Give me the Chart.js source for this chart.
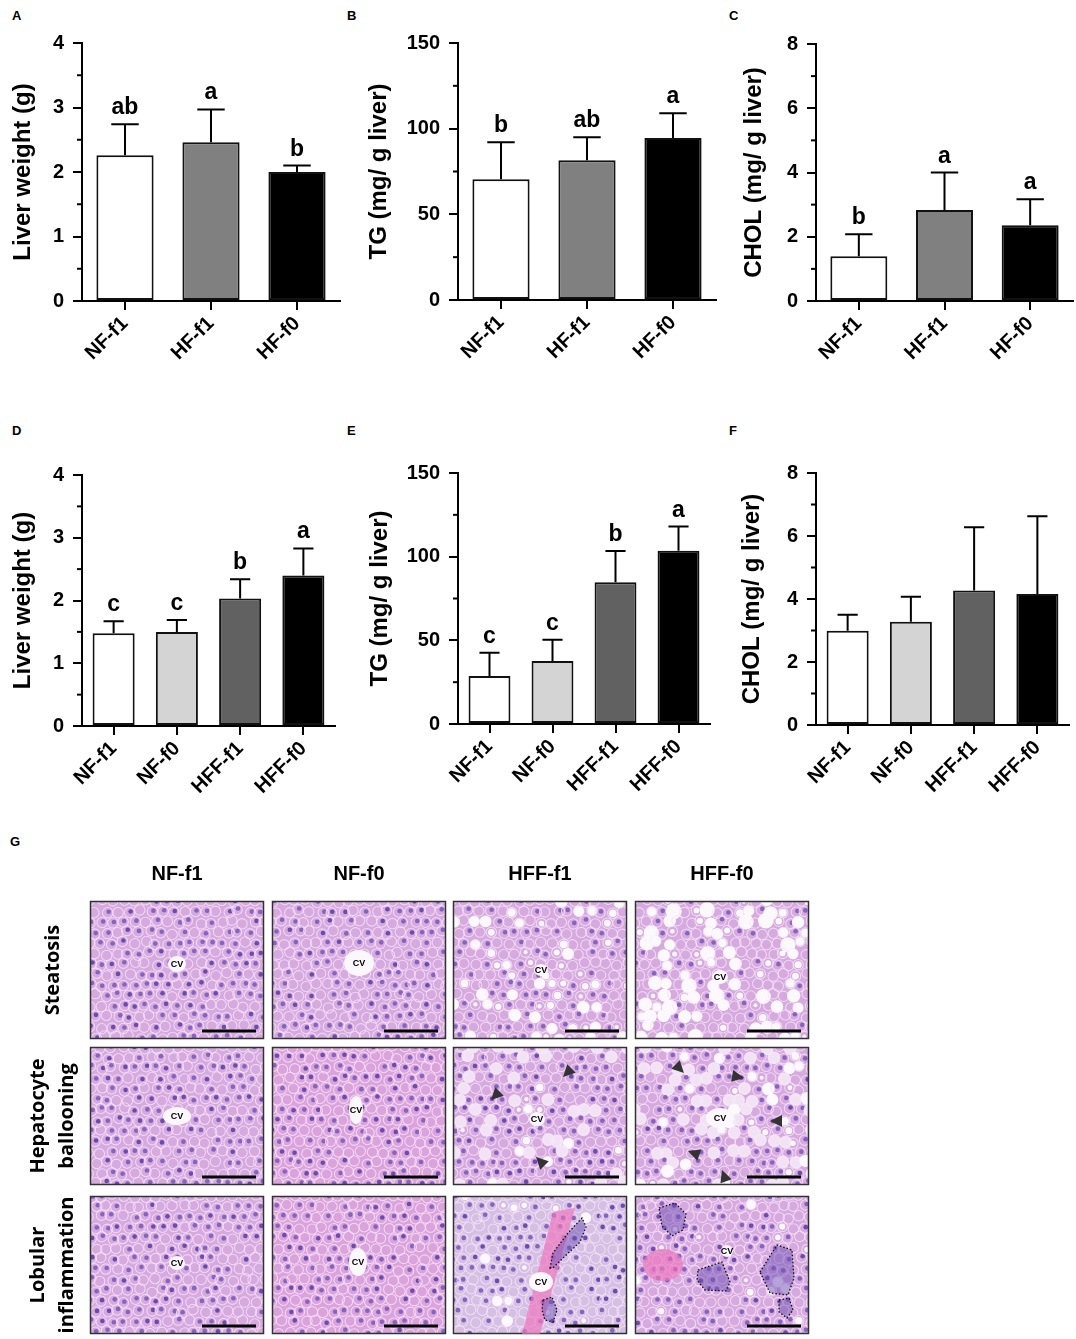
<!DOCTYPE html>
<html>
<head>
<meta charset="utf-8">
<script src="https://cdn.jsdelivr.net/npm/chart.js@4.4.1/dist/chart.umd.min.js"></script>
<style>
html, body { margin: 0; padding: 0; background: #fff; }
#page { position: relative; width: 1076px; height: 1339px; overflow: hidden; font-family: "Liberation Sans", Arial, sans-serif; color: #000; }
.pnl { position: absolute; }
.tag { position: absolute; font-weight: bold; font-size: 13px; line-height: 13px; }
.colh { position: absolute; top: 861px; width: 174px; text-align: center; font-weight: bold; font-size: 20px; line-height: 24px; }
.rowh { position: absolute; font-family: "Open Sans", sans-serif; font-weight: bold; font-size: 20px; line-height: 29px; text-align: center; white-space: nowrap; transform: translate(-50%, -50%) rotate(-90deg); }
.cv { position: absolute; font-weight: bold; font-size: 9px; line-height: 10px; transform: translate(-50%, -50%); }
</style>
</head>
<body>
<div id="page">
  <div class="tag" style="left:12px;top:9px">A</div>
  <div class="tag" style="left:347px;top:9px">B</div>
  <div class="tag" style="left:729px;top:9px">C</div>
  <div class="tag" style="left:12px;top:424px">D</div>
  <div class="tag" style="left:347px;top:424px">E</div>
  <div class="tag" style="left:729px;top:424px">F</div>
  <div class="tag" style="left:10px;top:835px">G</div>

  <canvas id="cA" class="pnl"></canvas>
  <canvas id="cB" class="pnl"></canvas>
  <canvas id="cC" class="pnl"></canvas>
  <canvas id="cD" class="pnl"></canvas>
  <canvas id="cE" class="pnl"></canvas>
  <canvas id="cF" class="pnl"></canvas>

  <canvas id="histo" class="pnl" width="830" height="509" style="left:0;top:830px"></canvas>
  <div id="histoText"></div>
</div>

<script>
// ---- data ------------------------------------------------------
var groups3 = ['NF-f1', 'HF-f1', 'HF-f0'];
var groups4 = ['NF-f1', 'NF-f0', 'HFF-f1', 'HFF-f0'];

var liverA     = [2.26, 2.46, 2.00];
var liverA_sd  = [0.48, 0.51, 0.10];
var liverA_sig = ['ab', 'a', 'b'];

var tgB     = [70.5, 81.5, 94.5];
var tgB_sd  = [21.5, 13.5, 14.5];
var tgB_sig = ['b', 'ab', 'a'];

var cholC     = [1.39, 2.83, 2.36];
var cholC_sd  = [0.69, 1.17, 0.81];
var cholC_sig = ['b', 'a', 'a'];

var liverD     = [1.48, 1.50, 2.03, 2.40];
var liverD_sd  = [0.19, 0.19, 0.31, 0.43];
var liverD_sig = ['c', 'c', 'b', 'a'];

var tgE     = [28.7, 37.6, 84.7, 103.6];
var tgE_sd  = [13.9, 12.8, 18.7, 14.4];
var tgE_sig = ['c', 'c', 'b', 'a'];

var cholF     = [2.99, 3.28, 4.27, 4.16];
var cholF_sd  = [0.51, 0.79, 2.01, 2.47];

var liverTicks = [0, 1, 2, 3, 4];
var tgTicks    = [0, 50, 100, 150];
var cholTicks  = [0, 2, 4, 6, 8];

var fill3 = ['#ffffff', '#808080', '#000000'];
var fill4 = ['#ffffff', '#d4d4d4', '#616161', '#000000'];

var histoCols = ['NF-f1', 'NF-f0', 'HFF-f1', 'HFF-f0'];
var histoRows = [['Steatosis'], ['Hepatocyte', 'ballooning'], ['Lobular', 'inflammation']];

var FONT = '"Liberation Sans", Arial, sans-serif';

// ---- plugins ---------------------------------------------------
// upper SD whisker + significance letter above each bar
var errPlugin = {
    id: 'errbars',
    afterDatasetsDraw: function(chart) {
        var ds = chart.data.datasets[0], meta = chart.getDatasetMeta(0);
        var y = chart.scales.y, ctx = chart.ctx;
        ctx.save();
        ctx.strokeStyle = '#000'; ctx.fillStyle = '#000'; ctx.lineWidth = 2;
        ctx.font = 'bold 23px ' + FONT; ctx.textAlign = 'center'; ctx.textBaseline = 'alphabetic';
        meta.data.forEach(function(bar, i) {
            var top = y.getPixelForValue(ds.data[i] + ds.sd[i]);
            var half = bar.width * 0.24;
            ctx.beginPath();
            ctx.moveTo(bar.x, bar.y); ctx.lineTo(bar.x, top);
            ctx.moveTo(bar.x - half, top); ctx.lineTo(bar.x + half, top);
            ctx.stroke();
            if (ds.sig && ds.sig[i]) ctx.fillText(ds.sig[i], bar.x, top - 10);
        });
        ctx.restore();
    }
};

// short minor ticks half way between the labelled ones
var minorPlugin = {
    id: 'minorTicks',
    afterDraw: function(chart) {
        var y = chart.scales.y, ctx = chart.ctx, x0 = chart.chartArea.left, t = y.ticks;
        ctx.save(); ctx.strokeStyle = '#000'; ctx.lineWidth = 2;
        for (var k = 0; k < t.length - 1; k++) {
            var p = y.getPixelForValue((t[k].value + t[k + 1].value) / 2);
            ctx.beginPath(); ctx.moveTo(x0 - 5, p); ctx.lineTo(x0, p); ctx.stroke();
        }
        ctx.restore();
    }
};

// box: canvas x/y/w/h, axis = page x of y-axis, top/bottom/right = page chart area, tpad = title padding
function barPanel(id, box, labels, means, sds, sig, fills, ticks, title) {
    var cv = document.getElementById(id);
    cv.width = box.w; cv.height = box.h;
    cv.style.left = box.x + 'px'; cv.style.top = box.y + 'px';
    var step = ticks[1] - ticks[0];
    return new Chart(cv, {
        type: 'bar',
        data: {
            labels: labels,
            datasets: [{
                data: means, sd: sds, sig: sig,
                backgroundColor: fills, borderColor: '#111', borderWidth: 2, borderSkipped: false,
                categoryPercentage: 1, barPercentage: 0.665
            }]
        },
        options: {
            responsive: false,
            animation: false,
            layout: { padding: { left: 0, top: box.top - box.y, right: box.x + box.w - box.right, bottom: 0 } },
            plugins: { legend: { display: false }, tooltip: { enabled: false } },
            scales: {
                x: {
                    offset: true,
                    grid: { offset: false, drawOnChartArea: false, color: '#000', lineWidth: 2, tickLength: 9 },
                    border: { color: '#000', width: 2 },
                    ticks: { color: '#000', font: { family: FONT, size: 20, weight: 'bold' },
                             minRotation: 45, maxRotation: 45, padding: 2, autoSkip: false },
                    afterFit: function(s) { s.height = box.y + box.h - box.bottom; }
                },
                y: {
                    min: 0, max: ticks[ticks.length - 1],
                    ticks: { stepSize: step, color: '#000', padding: 9,
                             font: { family: FONT, size: 20, weight: 'bold' } },
                    grid: { drawOnChartArea: false, color: '#000', lineWidth: 2, tickLength: 9 },
                    border: { color: '#000', width: 2 },
                    title: { display: true, text: title, color: '#000',
                             font: { family: FONT, size: 24, weight: 'bold' },
                             padding: { top: box.tpad, bottom: 0 } },
                    afterFit: function(s) { s.width = box.axis - box.x; }
                }
            }
        },
        plugins: [errPlugin, minorPlugin]
    });
}

barPanel('cA', { x: 0,   y: 0,   w: 350, h: 400, axis: 82,  top: 43,  bottom: 301, right: 340,  tpad: 9 },
    groups3, liverA, liverA_sd, liverA_sig, fill3, liverTicks, 'Liver weight (g)');
barPanel('cB', { x: 350, y: 0,   w: 370, h: 400, axis: 458, top: 43,  bottom: 300, right: 716,  tpad: 15 },
    groups3, tgB, tgB_sd, tgB_sig, fill3, tgTicks, 'TG (mg/ g liver)');
barPanel('cC', { x: 720, y: 0,   w: 356, h: 400, axis: 816, top: 44,  bottom: 301, right: 1073, tpad: 20 },
    groups3, cholC, cholC_sd, cholC_sig, fill3, cholTicks, 'CHOL (mg/ g liver)');
barPanel('cD', { x: 0,   y: 410, w: 350, h: 400, axis: 82,  top: 475, bottom: 726, right: 335,  tpad: 9 },
    groups4, liverD, liverD_sd, liverD_sig, fill4, liverTicks, 'Liver weight (g)');
barPanel('cE', { x: 350, y: 410, w: 366, h: 400, axis: 458, top: 473, bottom: 724, right: 710,  tpad: 16 },
    groups4, tgE, tgE_sd, tgE_sig, fill4, tgTicks, 'TG (mg/ g liver)');
barPanel('cF', { x: 716, y: 410, w: 360, h: 400, axis: 816, top: 473, bottom: 725, right: 1069, tpad: 22 },
    groups4, cholF, cholF_sd, null, fill4, cholTicks, 'CHOL (mg/ g liver)');

// ---- panel G: stained-section placeholders ---------------------
(function() {
    var OX = 0, OY = 830;
    var colX = [90, 272, 453, 635], rowY = [901, 1047, 1196], BW = 174, BH = 138;
    var ctx = document.getElementById('histo').getContext('2d');
    var txt = document.getElementById('histoText');
    var html = '';

    function hash(a, b) { var s = Math.sin(a * 127.1 + b * 311.7) * 43758.5453; return s - Math.floor(s); }

    // per image: fat vacuole share / max radius, ballooned share, pale or pink tone
    var kinds = [
        [{}, {}, { fat: 0.3, fr: 4.5 }, { fat: 0.45, fr: 6 }],
        [{}, { pink: 1 }, { balloon: 0.12, fat: 0.06, fr: 4 }, { balloon: 0.22, fat: 0.16, fr: 5 }],
        [{}, { pink: 1 }, { pale: 1, fat: 0.05, fr: 4 }, { fat: 0.08, fr: 3.5 }]
    ];

    function tissue(r, c) {
        var x = colX[c] - OX, y = rowY[r] - OY, k = kinds[r][c];
        ctx.save();
        ctx.beginPath(); ctx.rect(x, y, BW, BH); ctx.clip();
        ctx.fillStyle = k.pale ? '#d5bfe3' : (k.pink ? '#dba3dc' : '#d6a9df');
        ctx.fillRect(x, y, BW, BH);
        var seed = r * 7 + c * 13 + 1;
        for (var j = 0; j < 14; j++) {
            for (var i = 0; i < 17; i++) {
                var cx = x + i * 11 + (j % 2) * 5.5 + (hash(i + seed, j) - 0.5) * 4;
                var cy = y + j * 10.5 + (hash(j + seed, i) - 0.5) * 4;
                var hv = hash(i * 3 + seed, j * 5 + seed);
                ctx.strokeStyle = 'rgba(246,228,247,0.8)'; ctx.lineWidth = 1.1;
                ctx.beginPath(); ctx.arc(cx, cy, 5.2, 0, Math.PI * 2); ctx.stroke();
                if (k.fat && hv < k.fat) {
                    var rr = 2 + hash(i, j + seed) * k.fr;
                    ctx.fillStyle = '#fcf9fc';
                    ctx.beginPath(); ctx.arc(cx, cy, rr, 0, Math.PI * 2); ctx.fill();
                } else if (k.balloon && hv > 1 - k.balloon) {
                    ctx.fillStyle = 'rgba(244,232,246,0.9)';
                    ctx.beginPath(); ctx.arc(cx, cy, 6.5, 0, Math.PI * 2); ctx.fill();
                } else if (hv < 0.62) {
                    ctx.fillStyle = hv < 0.2 ? '#6a4bb0' : '#8563c0';
                    ctx.beginPath(); ctx.arc(cx + 1, cy - 1, 2.3, 0, Math.PI * 2); ctx.fill();
                }
            }
        }
        ctx.restore();
        // frame + scale bar
        ctx.strokeStyle = '#333'; ctx.lineWidth = 1.5;
        ctx.strokeRect(x + 0.5, y + 0.5, BW - 1, BH - 1);
        ctx.strokeStyle = '#000'; ctx.lineWidth = 3;
        ctx.beginPath(); ctx.moveTo(x + BW - 62, y + BH - 8); ctx.lineTo(x + BW - 8, y + BH - 8); ctx.stroke();
    }

    for (var r = 0; r < 3; r++) for (var c = 0; c < 4; c++) tissue(r, c);

    // central veins
    var cvs = [
        [177, 964, 9, 8], [359, 963, 15, 13], [541, 970, 7, 6], [720, 977, 8, 7],
        [177, 1116, 14, 9], [356, 1110, 7, 14], [537, 1119, 8, 7], [720, 1118, 14, 10],
        [177, 1263, 8, 7], [358, 1262, 9, 14], [541, 1282, 12, 10], [727, 1251, 6, 6]
    ];
    // congested pink areas and infiltrate outlines (lobular inflammation)
    ctx.fillStyle = 'rgba(236,120,190,0.7)';
    ctx.beginPath(); ctx.moveTo(553 - OX, 1212 - OY); ctx.lineTo(575 - OX, 1208 - OY); ctx.lineTo(540 - OX, 1334 - OY); ctx.lineTo(522 - OX, 1334 - OY); ctx.closePath(); ctx.fill();
    ctx.beginPath(); ctx.ellipse(663 - OX, 1265 - OY, 20, 16, 0, 0, Math.PI * 2); ctx.fill();
    cvs.forEach(function(v) {
        ctx.fillStyle = '#fbf8fb';
        ctx.beginPath(); ctx.ellipse(v[0] - OX, v[1] - OY, v[2], v[3], 0, 0, Math.PI * 2); ctx.fill();
        html += '<div class="cv" style="left:' + v[0] + 'px;top:' + v[1] + 'px">CV</div>';
    });

    var infil = [
        [[550, 1268], [553, 1253], [568, 1233], [582, 1218], [586, 1227], [580, 1242], [563, 1258], [553, 1268]],
        [[543, 1300], [552, 1297], [557, 1310], [553, 1322], [545, 1320], [542, 1310]],
        [[659, 1208], [675, 1203], [686, 1214], [683, 1230], [672, 1236], [662, 1226]],
        [[698, 1270], [722, 1262], [730, 1282], [726, 1291], [705, 1290], [697, 1280]],
        [[760, 1272], [777, 1245], [792, 1250], [794, 1278], [788, 1295], [770, 1293]],
        [[779, 1300], [789, 1298], [793, 1310], [787, 1318], [779, 1312]]
    ];
    infil.forEach(function(p) {
        ctx.fillStyle = 'rgba(110,80,180,0.5)';
        ctx.beginPath();
        p.forEach(function(q, n) { if (n) ctx.lineTo(q[0] - OX, q[1] - OY); else ctx.moveTo(q[0] - OX, q[1] - OY); });
        ctx.closePath(); ctx.fill();
        ctx.setLineDash([1.5, 2]); ctx.strokeStyle = '#111'; ctx.lineWidth = 1.3; ctx.stroke(); ctx.setLineDash([]);
    });

    // arrowheads marking ballooned hepatocytes: tip x, y, pointing angle (deg)
    var arrows = [[491, 1100, 135], [563, 1077, 135], [536, 1157, 225],
                  [684, 1073, 45], [744, 1078, 10], [770, 1121, 180], [688, 1151, 200], [722, 1170, 250]];
    ctx.fillStyle = '#333';
    arrows.forEach(function(a) {
        var t = a[2] * Math.PI / 180;
        ctx.save(); ctx.translate(a[0] - OX, a[1] - OY); ctx.rotate(t);
        ctx.beginPath(); ctx.moveTo(0, 0); ctx.lineTo(-12, -6); ctx.lineTo(-12, 6); ctx.closePath(); ctx.fill();
        ctx.restore();
    });

    histoCols.forEach(function(h, c) {
        html += '<div class="colh" style="left:' + colX[c] + 'px">' + h + '</div>';
    });
    histoRows.forEach(function(lines, r) {
        html += '<div class="rowh" style="left:51px;top:' + (rowY[r] + BH / 2) + 'px">' + lines.join('<br>') + '</div>';
    });
    txt.innerHTML = html;
})();
</script>
</body>
</html>
